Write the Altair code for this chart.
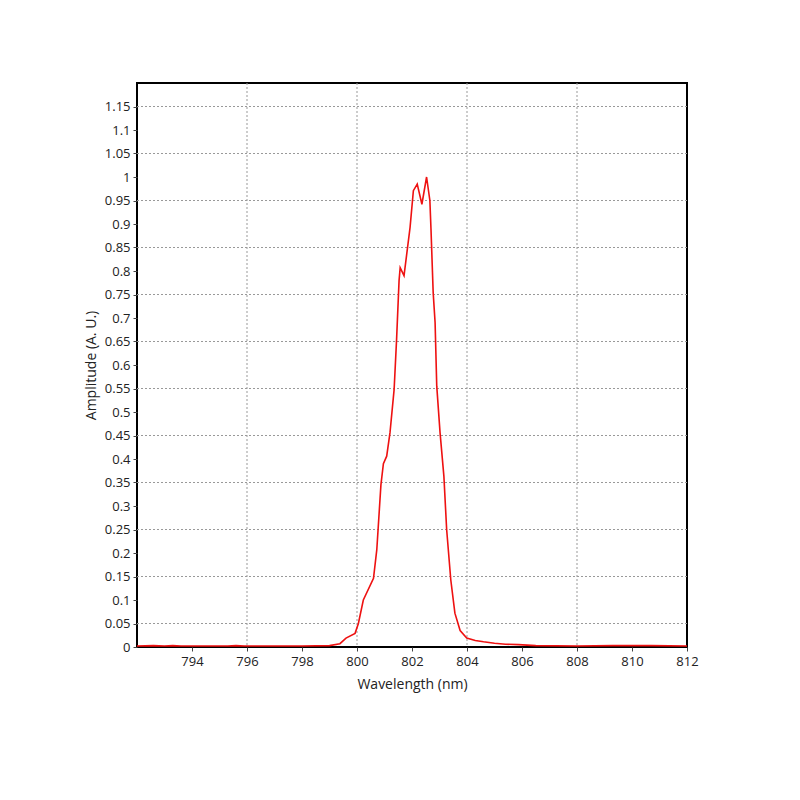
import altair as alt
import pandas as pd

wavelength = [792.0, 792.6, 793.0, 793.3, 793.6, 794.5, 795.3, 795.6, 795.9, 797.0, 798.0, 799.0,
              799.38, 799.6, 799.93, 800.05, 800.23, 800.6, 800.72, 800.87, 800.96, 801.08,
              801.2, 801.35, 801.44, 801.53, 801.57, 801.71, 801.93, 802.05, 802.19, 802.36,
              802.53, 802.65, 802.69, 802.77, 802.84, 802.9, 803.02, 803.16, 803.26, 803.41,
              803.56, 803.75, 803.99, 804.3, 804.6, 805.0, 805.4, 805.87, 806.5, 808.0,
              809.3, 810.7, 812.0]
amplitude = [0.002, 0.003, 0.002, 0.003, 0.002, 0.002, 0.002, 0.003, 0.002, 0.002, 0.002, 0.003,
             0.007, 0.019, 0.029, 0.05, 0.10, 0.146, 0.207, 0.345, 0.39, 0.406,
             0.456, 0.548, 0.655, 0.78, 0.807, 0.79, 0.893, 0.971, 0.985, 0.942,
             1.0, 0.95, 0.89, 0.754, 0.69, 0.555, 0.456, 0.363, 0.25, 0.143,
             0.072, 0.035, 0.019, 0.014, 0.011, 0.008, 0.006, 0.005, 0.003, 0.002,
             0.003, 0.003, 0.002]

x_ticks = [794, 796, 798, 800, 802, 804, 806, 808, 810, 812]
y_ticks = [round(0.05 * i, 2) for i in range(24)]
h_grid = [0.05, 0.15, 0.25, 0.35, 0.45, 0.55, 0.65, 0.75, 0.85, 0.95, 1.05, 1.15]
v_grid = [796, 800, 804, 808]

df = pd.DataFrame({"wl": wavelength, "amp": amplitude})
hg = pd.DataFrame({"amp": h_grid})
vg = pd.DataFrame({"wl": v_grid})

FONT = "Open Sans"
xscale = alt.Scale(domain=[792, 812], nice=False, zero=False)
yscale = alt.Scale(domain=[0, 1.2], nice=False)

xaxis = alt.Axis(values=x_ticks, grid=False, tickSize=4, labelPadding=4,
                 format="d", titlePadding=9, labelOverlap=False, labelFlush=False)
yaxis = alt.Axis(values=y_ticks, grid=False, tickSize=4, labelPadding=3,
                 format="~g", titlePadding=6, labelOverlap=False, labelFlush=False)

X = alt.X("wl:Q", scale=xscale, title="Wavelength (nm)", axis=xaxis)
Y = alt.Y("amp:Q", scale=yscale, title="Amplitude (A. U.)", axis=yaxis)

hlines = alt.Chart(hg).mark_rule(color="#999999", strokeDash=[2, 2], strokeWidth=1).encode(y=Y)
vlines = alt.Chart(vg).mark_rule(color="#999999", strokeDash=[2, 2], strokeWidth=1).encode(x=X)
line = alt.Chart(df).mark_line(color="#ee1111", strokeWidth=1.6).encode(x=X, y=Y)

chart = alt.layer(hlines, vlines, line).properties(
    width=550, height=564,
    autosize=alt.AutoSizeParams(type="none"),
    padding={"left": 129, "top": 75, "right": 105, "bottom": 145},
).configure_view(stroke="black", strokeWidth=2).configure_axis(
    labelFont=FONT, titleFont=FONT, labelFontSize=13, titleFontSize=14,
    labelColor="#222222", titleColor="#222222", titleFontWeight="normal",
    domain=False, tickColor="#444444",
)

chart.save("out.html", embed_options={"renderer": "svg", "actions": False})
